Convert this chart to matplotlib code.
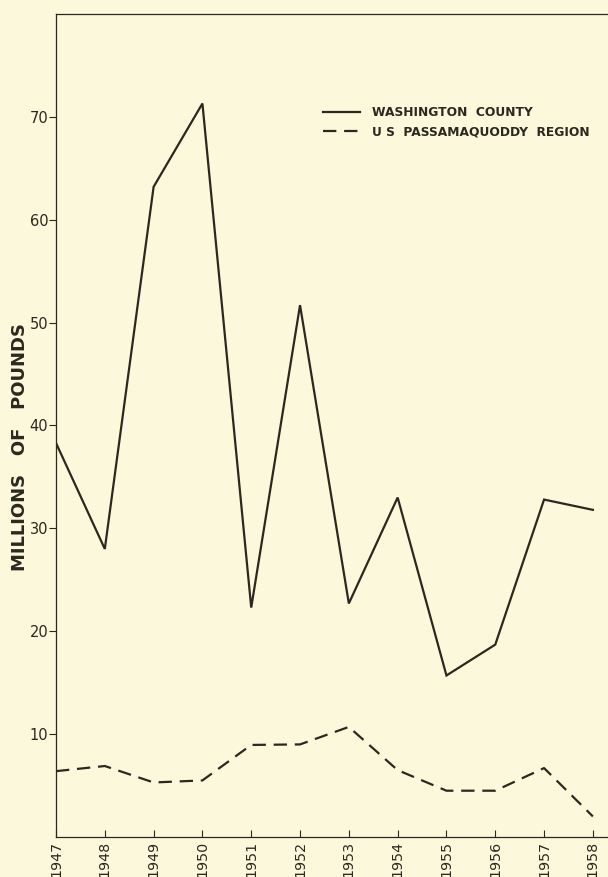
import matplotlib
matplotlib.use("Agg")
import matplotlib.pyplot as plt

years = [1947, 1948, 1949, 1950, 1951, 1952, 1953, 1954, 1955, 1956, 1957, 1958]
washington = [38.3, 28.0, 63.2, 71.3, 22.3, 51.7, 22.7, 33.0, 15.7, 18.7, 32.8, 31.8]
passamaquoddy = [6.4, 6.9, 5.3, 5.5, 8.95, 9.0, 10.7, 6.5, 4.5, 4.5, 6.7, 2.0]
y_ticks = [10, 20, 30, 40, 50, 60, 70]

bg = "#fbf8dc"
ink = "#2b2820"

fig = plt.figure(figsize=(6.08, 8.77), dpi=100, facecolor=bg)
ax = fig.add_axes([56 / 608, 40 / 877, 1 - 56 / 608, 823 / 877])
ax.set_facecolor(bg)

ax.plot(years, washington, color=ink, lw=1.6, solid_joinstyle="miter",
        label="WASHINGTON  COUNTY")
ax.plot(years, passamaquoddy, color=ink, lw=1.6, dashes=(6, 3.5),
        label="U S  PASSAMAQUODDY  REGION")

ax.set_xlim(1947, 1958.31)
ax.set_ylim(0, 80)
ax.set_xticks(years)
ax.set_xticklabels([str(y) for y in years], rotation=90, fontsize=10.3,
                   color=ink)
ax.set_yticks(y_ticks)
ax.set_yticklabels([str(v) for v in y_ticks], fontsize=10.5, color=ink)
ax.tick_params(axis="x", direction="in", length=5, width=0.8, color=ink, pad=3)
ax.tick_params(axis="y", direction="out", length=5, width=0.8, color=ink, pad=0.5)

for side in ["left", "top", "bottom"]:
    ax.spines[side].set_color(ink)
    ax.spines[side].set_linewidth(0.9)
ax.spines["right"].set_visible(False)

leg = fig.legend(loc="upper left", bbox_to_anchor=(323 / 608, 1 - 106 / 877),
                 frameon=False, borderpad=0, borderaxespad=0,
                 prop={"size": 8.8, "weight": "bold"},
                 handlelength=3.0, handletextpad=1.05, labelspacing=0.55,
                 labelcolor=ink)

fig.text(20 / 608, 1 - 447 / 877, "MILLIONS   OF   POUNDS", rotation=90,
         ha="center", va="center", fontsize=13, fontweight="bold", color=ink)

fig.savefig("out.png", dpi=100, facecolor=bg)
